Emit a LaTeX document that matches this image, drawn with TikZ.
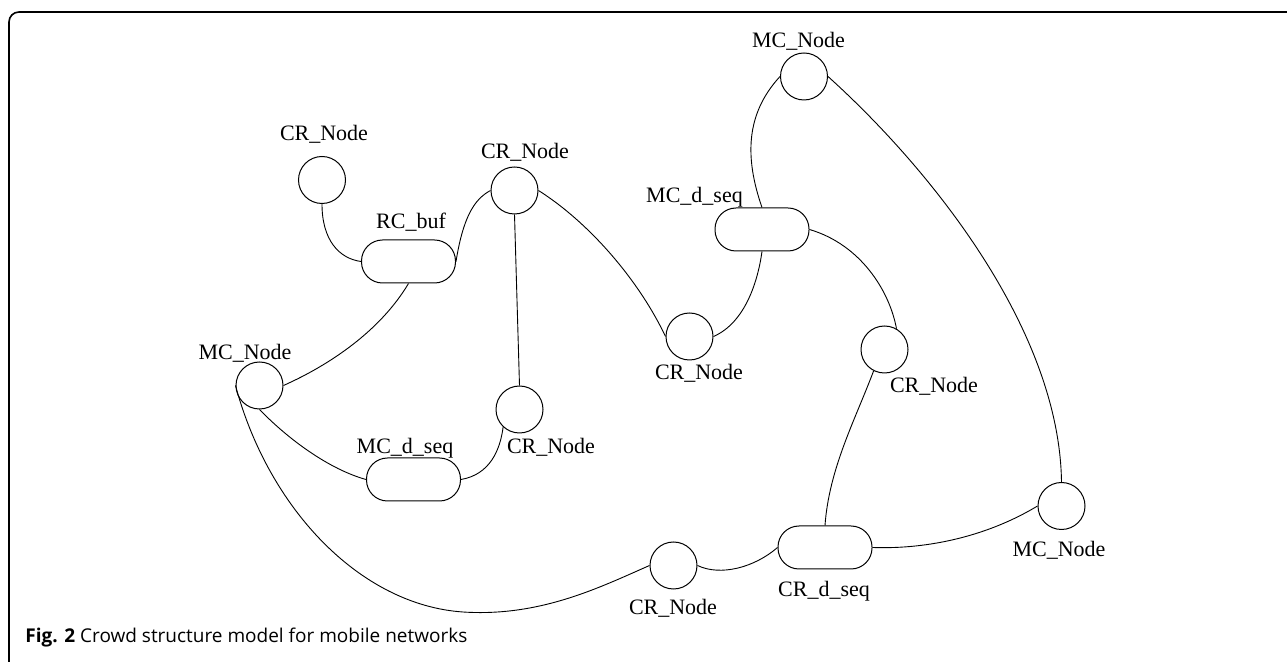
\documentclass[tikz,border=0pt]{standalone}
\usepackage{fontspec}
\setmainfont{Liberation Serif}
\newfontfamily\capfont{Open Sans}
\begin{document}
\begin{tikzpicture}[x=0.5pt,y=-0.5pt,
  circ/.style={draw,circle,minimum size=23.5pt,inner sep=0pt,line width=0.5pt},
  pill/.style={draw,rectangle,rounded corners=10.5pt,minimum width=47pt,minimum height=21.5pt,inner sep=0pt,line width=0.5pt},
  lbl/.style={anchor=base,inner sep=0pt,font=\fontsize{11}{13}\selectfont},
  link/.style={line width=0.45pt}]
\useasboundingbox (0,0) rectangle (1287,662);
% frame
\draw[line width=0.8pt,rounded corners=5pt] (9,680) -- (9,12) -- (1300,12);
% nodes
\node[circ] (cr1) at (322,180) {};
\node[pill] (rcbuf) at (408.5,261.5) {};
\node[circ] (cr3) at (514.5,190.5) {};
\node[circ] (mc4) at (259.5,385.5) {};
\node[circ] (cr5) at (519.5,409.5) {};
\node[pill] (mcd6) at (413.5,479.5) {};
\node[circ] (cr7) at (689.5,336.5) {};
\node[pill] (mcd8) at (762,229.5) {};
\node[circ] (cr9) at (884.5,349.5) {};
\node[circ] (mc10) at (804,76.5) {};
\node[circ] (mc11) at (1061.5,506) {};
\node[pill] (crd12) at (825,547.5) {};
\node[circ] (cr13) at (673.5,565.5) {};
\coordinate (mbot) at (463,612);
% labels
\node[lbl] (l1) at (324,141) {CR\_Node};
\node[lbl] (l2) at (411,229) {RC\_buf};
\node[lbl] (l3) at (525,159) {CR\_Node};
\node[lbl] (l4) at (245,360) {MC\_Node};
\node[lbl] (l5) at (551,454) {CR\_Node};
\node[lbl] (l6) at (405,454) {MC\_d\_seq};
\node[lbl] (l7) at (699,380) {CR\_Node};
\node[lbl] (l8) at (694.5,203) {MC\_d\_seq};
\node[lbl] (l9) at (934,393) {CR\_Node};
\node[lbl] (l10) at (798.5,48) {MC\_Node};
\node[lbl] (l11) at (1059,557) {MC\_Node};
\node[lbl] (l12) at (824,597) {CR\_d\_seq};
\node[lbl] (l13) at (673,615) {CR\_Node};
% connectors
\draw[link] (cr1.south) .. controls +(0,36) and +(-22,-3) .. (rcbuf.west);
\draw[link] (rcbuf.east) .. controls +(7,-43) and +(-17,9) .. (cr3.west);
\draw[link] (rcbuf.south) .. controls +(-28,47) and +(47,-21) .. (mc4.east);
\draw[link] (cr3.south) -- (cr5.north);
\draw[link] (cr3.east) .. controls +(52,33) and +(-26,-55) .. (cr7.west);
\draw[link] (cr7.east) .. controls +(32,-14) and +(-4,29) .. (mcd8.south);
\draw[link] (mcd8.north) .. controls +(-17,-49) and +(-35,38) .. (mc10.west);
\draw[link] (mc10.east) .. controls +(102,92) and +(-2,-153) .. (mc11.north);
\draw[link] (mcd8.east) .. controls +(51,15) and +(-7,-38) .. (cr9.60);
\draw[link] (cr9.-117) .. controls +(-18,48) and +(4,-57) .. (crd12.north);
\draw[link] (crd12.east) .. controls +(58,2) and +(-48,29) .. (mc11.west);
\draw[link] (cr13.east) .. controls +(23,11) and +(-23,20) .. (crd12.west);
\draw[link] (mc4.west) .. controls +(33,123) and +(-103,-7) .. (mbot) .. controls +(77,5) and +(-50,22) .. (cr13.west);
\draw[link] (mc4.south) .. controls +(30,31) and +(-36,-10) .. (mcd6.west);
\draw[link] (mcd6.east) .. controls +(29,-5) and +(-3,23) .. (cr5.-133);
% caption
\node[anchor=base west,inner sep=0pt,font=\capfont\fontsize{9.5}{11}\selectfont] (cap) at (25,643) {\textbf{Fig. 2} Crowd structure model for mobile networks};
\end{tikzpicture}
\end{document}
